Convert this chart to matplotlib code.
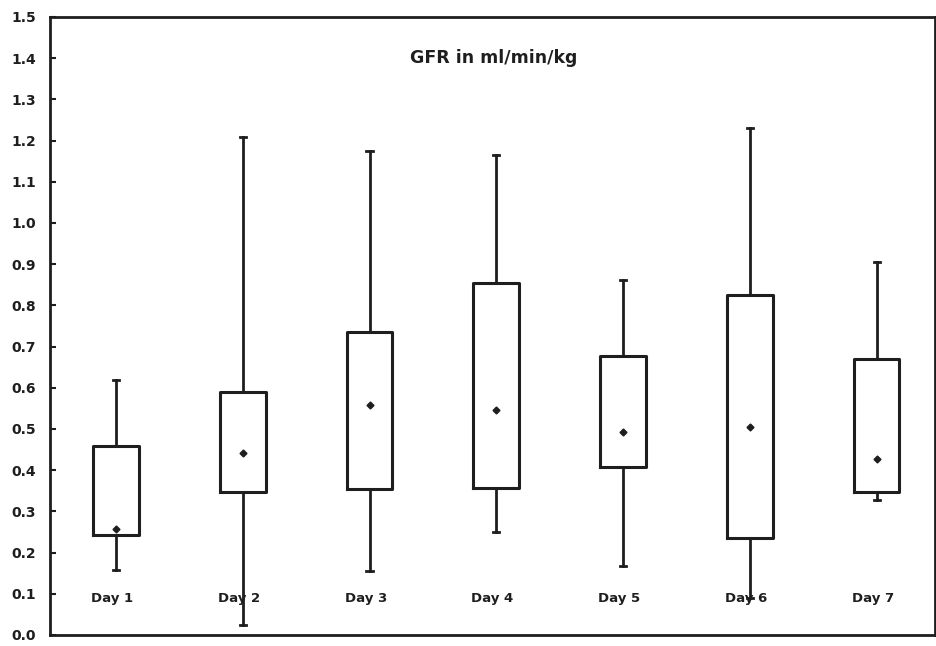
import matplotlib
matplotlib.use("Agg")
import matplotlib.pyplot as plt

days = ["Day 1", "Day 2", "Day 3", "Day 4", "Day 5", "Day 6", "Day 7"]
whisk_low = [0.157, 0.024, 0.155, 0.250, 0.167, 0.09, 0.327]
box_low = [0.242, 0.347, 0.355, 0.358, 0.407, 0.236, 0.348]
box_high = [0.458, 0.591, 0.736, 0.855, 0.677, 0.826, 0.670]
whisk_high = [0.620, 1.208, 1.175, 1.166, 0.862, 1.230, 0.906]
means = [0.258, 0.441, 0.558, 0.547, 0.492, 0.504, 0.428]
title = "GFR in ml/min/kg"
yticks = [0.0, 0.1, 0.2, 0.3, 0.4, 0.5, 0.6, 0.7, 0.8, 0.9, 1.0, 1.1, 1.2, 1.3, 1.4, 1.5]

ink = "#1e1e1e"
fig = plt.figure(figsize=(9.36, 6.46), dpi=100)
ax = fig.add_axes([50/936, 1-635/646, 885/936, 618/646])

stats = []
for i in range(len(days)):
    stats.append(dict(whislo=whisk_low[i], q1=box_low[i], med=means[i],
                      q3=box_high[i], whishi=whisk_high[i], mean=means[i],
                      fliers=[], label=days[i]))
pos = list(range(1, len(days) + 1))
ax.bxp(stats, positions=pos, widths=0.36, showmeans=True, showfliers=False,
       boxprops=dict(color=ink, linewidth=2.2),
       whiskerprops=dict(color=ink, linewidth=2.0),
       capprops=dict(color=ink, linewidth=2.0),
       capwidths=0.05,
       medianprops=dict(linewidth=0),
       meanprops=dict(marker="D", markersize=3.5, markerfacecolor=ink,
                      markeredgecolor=ink))

for p, d in zip(pos, days):
    ax.text(p - 0.03, 0.088, d, ha="center", va="center", fontsize=9.5,
            fontweight="bold", color=ink)
ax.text(3.98, 1.40, title, ha="center", va="center", fontsize=12.5,
        fontweight="semibold", color=ink)

ax.set_xlim(0.48, 7.46)
ax.set_ylim(0, 1.5)
ax.set_xticks([])
ax.set_yticks(yticks)
ax.set_yticklabels([f"{t:.1f}" for t in yticks], fontsize=10, fontweight="bold",
                   color=ink)
ax.tick_params(axis="y", direction="in", length=4, width=1.5, color=ink, pad=10)
for s in ax.spines.values():
    s.set_linewidth(2.0)
    s.set_color(ink)

fig.savefig("out.png", dpi=100)
